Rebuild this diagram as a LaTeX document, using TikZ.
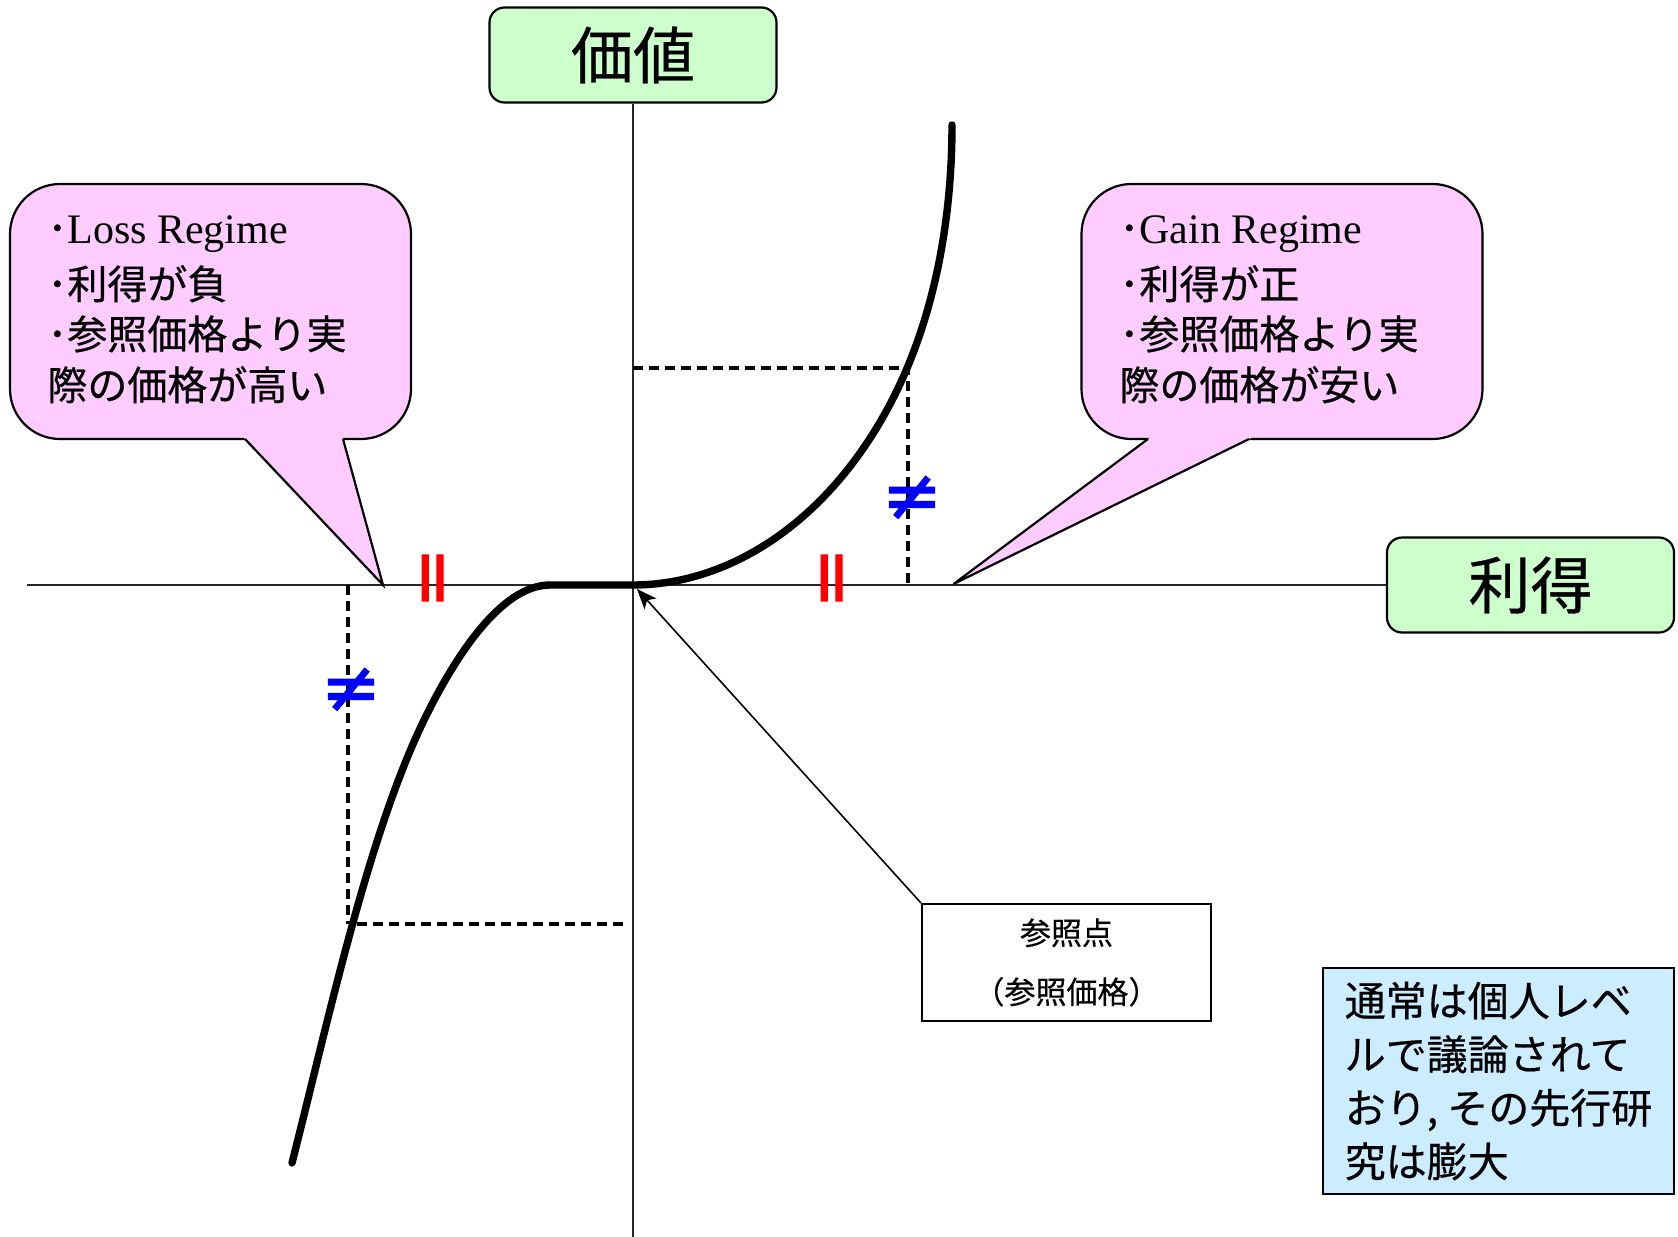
\documentclass[tikz,border=0pt]{standalone}
\usepackage{fontspec}
\setmainfont{Liberation Serif}
\newfontfamily\jp[FakeBold=0.5]{Noto Sans CJK JP}
\newfontfamily\dv[FakeBold=1.5]{DejaVu Sans}
\usetikzlibrary{arrows.meta}
\definecolor{pinkfill}{RGB}{255,204,255}
\definecolor{greenfill}{RGB}{204,255,204}
\definecolor{bluefill}{RGB}{204,236,255}
\begin{document}
\begin{tikzpicture}[x=0.5pt,y=-0.5pt,
  axisbox/.style={draw, line width=1.1pt, fill=greenfill, rounded corners=7.5pt,
    minimum width=143.5pt, minimum height=47.5pt, inner sep=0pt,
    font=\jp\fontsize{31}{36}\selectfont},
  axisline/.style={line width=0.6pt, black!85},
  bubble/.style={draw, line width=1.1pt, fill=pinkfill, rounded corners=25pt,
    minimum width=200.5pt, minimum height=127.5pt, inner sep=0pt},
  bubline/.style={line width=1.1pt, line join=miter},
  bubtext/.style={anchor=base west, inner sep=0pt, font=\jp\fontsize{20}{24}\selectfont},
  curve/.style={line width=3.7pt, line cap=round, line join=round},
  guide/.style={line width=1.6pt, dash pattern=on 5pt off 3pt},
  neq/.style={text=blue, inner sep=0pt, font=\dv\fontsize{36}{36}\selectfont},
  eqmark/.style={text=red, inner sep=0pt, rotate=90, font=\dv\fontsize{37}{37}\selectfont},
  refbox/.style={draw, line width=1.1pt, fill=white, minimum width=144.5pt,
    minimum height=58.5pt, inner sep=0pt, align=center,
    font=\jp\fontsize{15.5}{29.5}\selectfont},
  notebox/.style={draw, line width=1.1pt, fill=bluefill, minimum width=175.5pt,
    minimum height=113pt, inner sep=0pt, align=left,
    font=\jp\fontsize{20.5}{26.8}\selectfont},
  pointer/.style={line width=0.8pt, -{Stealth[length=10pt, width=8pt, inset=2.5pt]}}
]
\useasboundingbox (0,0) rectangle (1678,1237);

% axes
\node[axisbox] (value) at (633,55) {価値};
\node[axisbox] (gainaxis) at (1530.5,585) {利得};
\coordinate (vbot) at (633,1237);
\coordinate (hleft) at (27,585);
\draw[axisline] (value.south) -- (vbot);
\draw[axisline] (hleft) -- (gainaxis.west);

% guide lines
\draw[guide] (633,368) -- (908,368) -- (908,585);
\draw[guide] (348,585) -- (348,924);
\draw[guide] (357,924) -- (625,924);

% value function
\draw[curve] (292,1163) .. controls (329,1017.7) and (368.9,830.2) .. (427,714)
  .. controls (453.8,660.4) and (500,585) .. (550,585) -- (633,585)
  .. controls (723,585) and (818.5,529.8) .. (883,417)
  .. controls (932.6,330.2) and (952,225) .. (952,125);

% marks
\node[neq] (ne1) at (912,498) {≠};
\node[neq] (ne2) at (351,690) {≠};
\node[eqmark] (eq1) at (439,578) {=};
\node[eqmark] (eq2) at (838,578) {=};

% loss bubble
\node[bubble] (lossb) at (210.5,311.5) {};
\fill[pinkfill] (240.3,434) -- (383,585) -- (341.6,434) -- cycle;
\draw[bubline] (245,439) -- (383,585) -- (343,439);
\node[bubtext] (l1) at (47,243) {･{\rmfamily\fontsize{21}{24}\selectfont Loss Regime}};
\node[bubtext] (l2) at (47,299) {･利得が負};
\node[bubtext] (l3) at (47,349) {･参照価格より実};
\node[bubtext] (l4) at (47,400) {際の価格が高い};

% gain bubble
\node[bubble] (gainb) at (1282,311.5) {};
\fill[pinkfill] (1154.7,434) -- (953.5,584) -- (1259.2,434) -- cycle;
\draw[bubline] (1148,439) -- (953.5,584) -- (1249,439);
\node[bubtext] (g1) at (1119,243) {･{\rmfamily\fontsize{21}{24}\selectfont Gain Regime}};
\node[bubtext] (g2) at (1119,299) {･利得が正};
\node[bubtext] (g3) at (1119,349) {･参照価格より実};
\node[bubtext] (g4) at (1119,400) {際の価格が安い};

% reference point
\node[refbox] (ref) at (1066.5,962.5) {参照点\\（参照価格）};
\coordinate (origin) at (637,589);
\draw[pointer] (ref.north west) -- (origin);

% note
\node[notebox] (note) at (1498.5,1081) {通常は個人レベ\\ルで議論されて\\おり, その先行研\\究は膨大};
\end{tikzpicture}
\end{document}
